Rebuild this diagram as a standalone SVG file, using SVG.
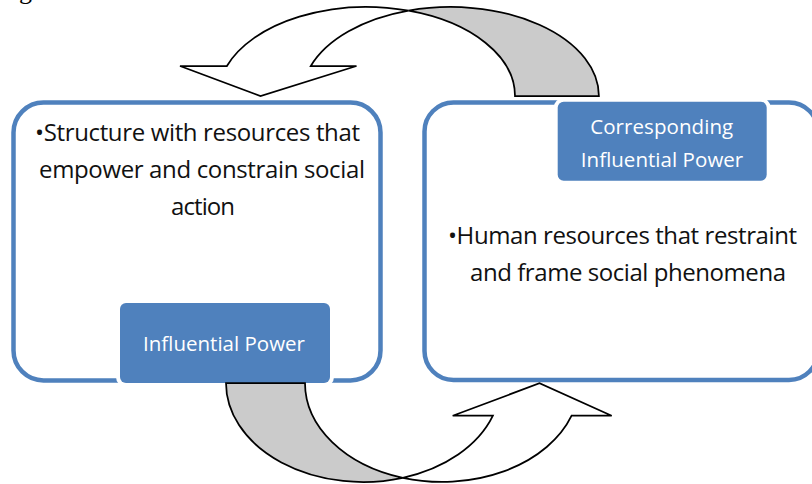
<svg xmlns="http://www.w3.org/2000/svg" width="812" height="484" viewBox="0 0 812 484">
  <style>
    .frame { fill: #ffffff; stroke: #4f81bd; stroke-width: 4.5; }
    .tag { fill: #4f81bd; stroke: #ffffff; stroke-width: 8; paint-order: stroke; }
    .tag-text { fill: #ffffff; font-family: "Open Sans", "Noto Sans", sans-serif; font-size: 20.5px; text-anchor: middle; }
    .body { fill: #111111; font-family: "Open Sans", "Noto Sans", sans-serif; font-size: 24px; }
    .front { fill: #ffffff; stroke: #000000; stroke-width: 1.75; stroke-linejoin: miter; }
    .back { fill: #cbcbcb; stroke: #000000; stroke-width: 1.75; stroke-linejoin: miter; }
  </style>

  <!-- caption fragment at the top edge -->
  <text x="19" y="-0.8" font-family="Liberation Serif, serif" font-size="26" fill="#000">g</text>

  <!-- left node: structure -->
  <g id="structure">
    <rect class="frame" x="13.5" y="102.5" width="367" height="278" rx="30" ry="30"/>
    <text class="body" x="35" y="140.5" textLength="325" lengthAdjust="spacing">•Structure with resources that</text>
    <text class="body" x="39" y="177.5" textLength="326" lengthAdjust="spacing">empower and constrain social</text>
    <text class="body" x="171" y="214.5" textLength="64" lengthAdjust="spacing">action</text>
    <g id="influential-power">
      <rect class="tag" x="120" y="303" width="210" height="80" rx="6" ry="6"/>
      <text class="tag-text" x="224" y="350.5" textLength="162" lengthAdjust="spacing">Influential Power</text>
    </g>
  </g>

  <!-- right node: human resources -->
  <g id="human-resources">
    <rect class="frame" x="424.5" y="102.5" width="393.5" height="277.5" rx="29" ry="29"/>
    <text class="body" x="448" y="243.5" textLength="349" lengthAdjust="spacing">•Human resources that restraint</text>
    <text class="body" x="470" y="280.5" textLength="316" lengthAdjust="spacing">and frame social phenomena</text>
    <g id="corresponding-influential-power">
      <rect class="tag" x="557.7" y="101.7" width="209" height="79" rx="6" ry="6"/>
      <text class="tag-text" x="661.7" y="133.5" textLength="143" lengthAdjust="spacing">Corresponding</text>
      <text class="tag-text" x="662" y="166.8" textLength="162.5" lengthAdjust="spacing">Influential Power</text>
    </g>
  </g>

  <!-- curved block arrows linking the two nodes -->
  <g id="connectors">
    <!-- top: from right node back over to the left node -->
    <g id="arrow-top">
      <path class="back" d="M 408.55,10.64 A 148.4 89 0 0 1 598.9,96 L 515,96 A 148.4 89 0 0 0 408.55,10.64 Z"/>
      <path class="front" d="M 180,66 L 226.9,66 A 148.4 89 0 0 1 408.55,10.64 A 148.4 89 0 0 0 310.8,66 L 356.5,66 L 260.5,96 Z"/>
    </g>
    <!-- bottom: from left node under to the right node -->
    <g id="arrow-bottom">
      <path class="back" d="M 226,383 A 137.3 99 0 0 0 402.8,477.8 A 137.3 99 0 0 1 305,383 Z"/>
      <path class="front" d="M 452.7,415.7 L 492.9,415.7 A 137.3 99 0 0 1 402.8,477.8 A 137.3 99 0 0 0 571.6,415.7 L 611.7,415.7 L 539.5,383.3 Z"/>
    </g>
  </g>
</svg>
